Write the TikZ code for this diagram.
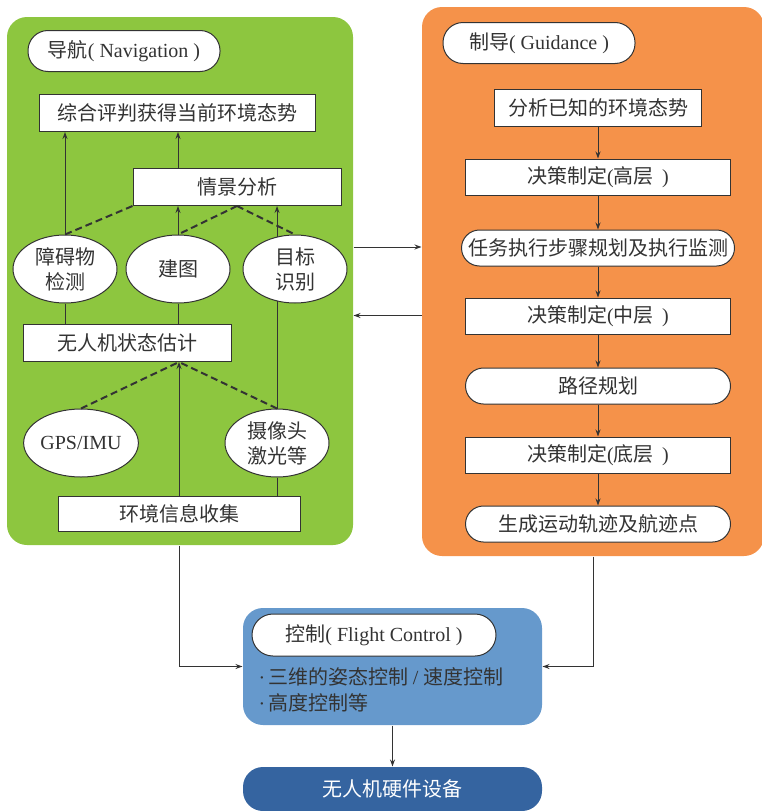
\documentclass[tikz,border=0pt]{standalone}
\usepackage{fontspec}
\setmainfont{Liberation Serif}
\newfontfamily\cjk{Noto Sans CJK SC}
\usetikzlibrary{shapes.geometric,arrows.meta}

\definecolor{navgreen}{HTML}{8DC63F}
\definecolor{guiorange}{HTML}{F5924A}
\definecolor{ctrlblue}{HTML}{6699CC}
\definecolor{hwblue}{HTML}{3564A0}
\definecolor{linegray}{HTML}{333333}

\tikzset{
  panel/.style={draw=none, rounded corners=20pt, inner sep=0pt},
  txt/.style={inner sep=0pt, font=\cjk\fontsize{20}{25}\selectfont},
  box/.style={txt, draw=linegray, fill=white, line width=1pt},
  pill/.style={box, rounded corners=18pt},
  ell/.style={box, ellipse, minimum width=104pt, minimum height=68pt, align=center},
  dline/.style={line width=2pt, dash pattern=on 7pt off 4pt},
}

\begin{document}
\begin{tikzpicture}[x=1pt, y=-1pt, color=linegray, line width=1pt,
    >={Stealth[length=7pt,width=5pt]}]

    \useasboundingbox (0,0) rectangle (762,811);

    % navigation
    \node[panel, fill=navgreen, minimum width=346pt, minimum height=528pt] (nav) at (180,281) {};
    \node[pill, rounded corners=20pt, minimum width=192pt, minimum height=41pt] (navtitle) at (124,51) {导航\rmfamily( Navigation )};
    \node[box, minimum width=276pt, minimum height=37pt] (eval) at (177,113) {综合评判获得当前环境态势};
    \node[box, minimum width=208pt, minimum height=37pt] (sit) at (237,187) {情景分析};
    \node[ell] (obs) at (65,269) {障碍物\\检测};
    \node[ell] (map) at (178,269) {建图};
    \node[ell] (tgt) at (295,269) {目标\\识别};
    \node[box, minimum width=208pt, minimum height=37pt] (est) at (127,343) {无人机状态估计};
    \node[ell] (gps) at (81,443) {\rmfamily GPS/IMU};
    \node[ell] (cam) at (277,443) {摄像头\\激光等};
    \node[box, minimum width=242pt, minimum height=35pt] (env) at (179,514) {环境信息收集};
    \coordinate (meet) at (env.north |- est.south);

    % guidance
    \node[panel, fill=guiorange, minimum width=342pt, minimum height=549pt] (gui) at (593,281.5) {};
    \node[pill, rounded corners=20pt, minimum width=192pt, minimum height=41pt] (guititle) at (539,43) {制导\rmfamily( Guidance )};
    \node[box, minimum width=207pt, minimum height=37pt] (ana) at (598,108) {分析已知的环境态势};
    \node[box, minimum width=265pt, minimum height=36pt] (high) at (598,177) {决策制定{\rmfamily(}高层{\rmfamily\ \,)}};
    \node[pill, minimum width=273pt, minimum height=36pt] (task) at (598,248) {任务执行步骤规划及执行监测};
    \node[box, minimum width=265pt, minimum height=36pt] (mid) at (598,316) {决策制定{\rmfamily(}中层{\rmfamily\ \,)}};
    \node[pill, minimum width=265pt, minimum height=36pt] (route) at (598,386) {路径规划};
    \node[box, minimum width=265pt, minimum height=36pt] (low) at (598,455) {决策制定{\rmfamily(}底层{\rmfamily\ \,)}};
    \node[pill, minimum width=265pt, minimum height=36pt] (traj) at (598,524) {生成运动轨迹及航迹点};

    % control
    \node[panel, fill=ctrlblue, minimum width=299pt, minimum height=117pt] (ctrl) at (392.5,666.5) {};
    \node[pill, rounded corners=21pt, minimum width=244pt, minimum height=42pt] (ctrltitle) at (374,635) {控制\rmfamily( Flight Control )};
    \node[txt, anchor=west] (att) at (258,677) {{\rmfamily ·\,}三维的姿态控制 {\rmfamily /} 速度控制};
    \node[txt, anchor=west] (alt) at (258,703) {{\rmfamily ·\,}高度控制等};

    % hardware
    \node[panel, txt, fill=hwblue, text=white, minimum width=299pt, minimum height=44pt] (hw) at (392.5,789) {无人机硬件设备};

    % navigation links
    \draw [->] (obs.north) -- (obs.north |- eval.south);
    \draw [->] (map.north) -- (map.north |- sit.south);
    \draw [->] (map.north |- sit.north) -- (map.north |- eval.south);
    \draw [->] (tgt.119) -- (tgt.119 |- sit.south);
    \draw [dline] (sit.south west) -- (obs.north);
    \draw [dline] (sit.south) -- (map.north);
    \draw [dline] (sit.south) -- (tgt.north);
    \draw (obs.south) -- (obs.south |- est.north);
    \draw (map.south) -- (map.south |- est.north);
    \draw (tgt.241) -- (tgt.241 |- cam.north);
    \draw [dline] (gps.north) -- (meet);
    \draw [dline] (cam.north) -- (meet);
    \draw [->] (env.north) -- (meet);
    \draw (cam.south) -- (cam.south |- env.north);

    % guidance links
    \draw [->] (ana) -- (high);
    \draw [->] (high) -- (task);
    \draw [->] (task) -- (mid);
    \draw [->] (mid) -- (route);
    \draw [->] (route) -- (low);
    \draw [->] (low) -- (traj);

    % between blocks
    \draw [->] ([yshift=34pt]nav.east) -- ([yshift=34pt]nav.east -| gui.west);
    \draw [->] ([yshift=-34pt]gui.west) -- ([yshift=-34pt]gui.west -| nav.east);
    \draw [->] (env.south |- nav.south) |- (ctrl.west);
    \draw [->] (gui.south) |- (ctrl.east);
    \draw [->] (ctrl.south) -- (hw.north);

  \end{tikzpicture}
\end{document}
